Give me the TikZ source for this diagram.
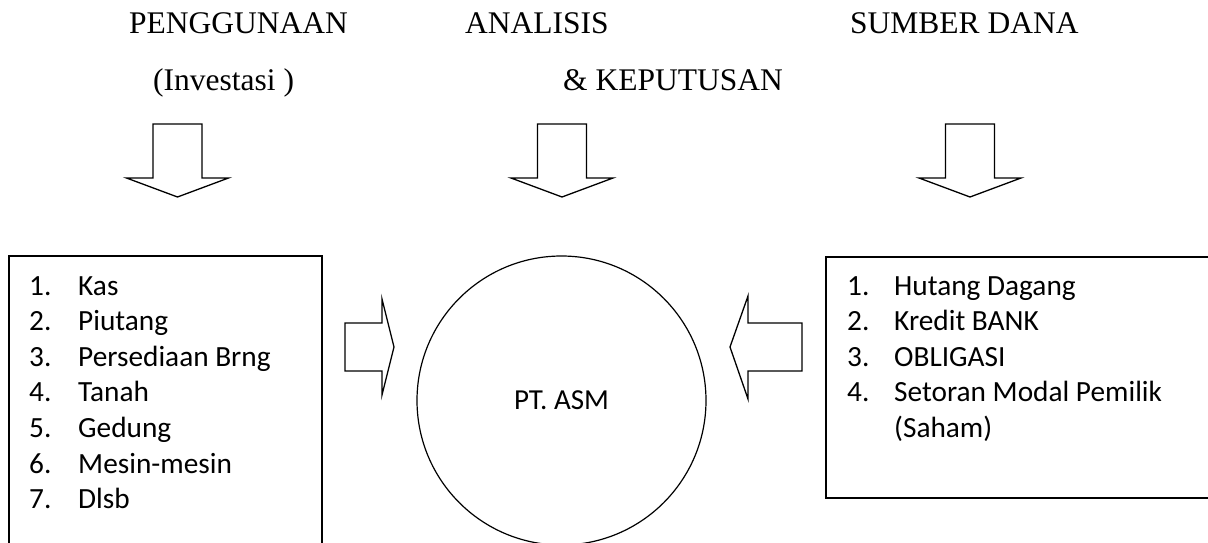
\documentclass[tikz,border=0pt]{standalone}
\usepackage{fontspec}
\setmainfont{Liberation Serif}
\newfontfamily\calibri{Carlito}
\usetikzlibrary{positioning}
\tikzset{
  title/.style={anchor=base west, inner sep=0pt, font=\fontsize{31.5}{37}\selectfont},
  listtext/.style={anchor=base west, inner sep=0pt, font=\calibri\fontsize{29.3}{35.6}\selectfont},
  blockarrow/.style={draw, line width=1.3pt, line join=miter, fill=white},
  listbox/.style={draw, line width=1.2pt}
}
\begin{document}
\begin{tikzpicture}[x=1pt,y=-1pt]
    \useasboundingbox (0,0) rectangle (1208,543);
    \clip (0,0) rectangle (1208,543);
    % headings
    \node[title] (use) at (129,34) {PENGGUNAAN};
    \node[title] (inv) at (153,90) {(Investasi )};
    \node[title] (ana) at (465,34) {ANALISIS};
    \node[title] (kep) at (563,90) {\& KEPUTUSAN};
    \node[title] (src) at (850,34) {SUMBER DANA};
    %
    % down arrows
    \foreach \cx in {177.5,562,970} {
      \draw[blockarrow] (\cx-24.5,124) -- (\cx+24.5,124) -- (\cx+24.5,178) -- (\cx+51,178)
        -- (\cx,197) -- (\cx-51,178) -- (\cx-24.5,178) -- cycle;
    }
    %
    % company
    \node[draw, circle, line width=1.2pt, minimum size=289pt, inner sep=0pt,
          font=\calibri\fontsize{29}{35}\selectfont] (asm) at (561.5,400.5) {PT. ASM};
    %
    % side arrows
    \draw[blockarrow] (345,323) -- (382,323) -- (382,299) -- (394,347) -- (382,395)
      -- (382,371) -- (345,371) -- cycle;
    \draw[blockarrow] (802,323) -- (748,323) -- (748,296) -- (730,347) -- (748,399)
      -- (748,371) -- (802,371) -- cycle;
    %
    % left box
    \draw[listbox] (9,560) -- (9,256) -- (322,256) -- (322,560);
    \foreach \i/\item in {1/Kas,2/Piutang,3/Persediaan Brng,4/Tanah,5/Gedung,6/Mesin-mesin,7/Dlsb} {
      \node[listtext] (un\i) at (29,{295+(\i-1)*35.6}) {\i.};
      \node[listtext] (ui\i) at (78,{295+(\i-1)*35.6}) {\item};
    }
    %
    % right box
    \draw[listbox] (1215,257) -- (826,257) -- (826,498) -- (1215,498);
    \foreach \i/\item in {1/Hutang Dagang,2/Kredit BANK,3/OBLIGASI,4/Setoran Modal Pemilik} {
      \node[listtext] (sn\i) at (847,{295+(\i-1)*35.6}) {\i.};
      \node[listtext] (si\i) at (894,{295+(\i-1)*35.6}) {\item};
    }
    \node[listtext] (si4b) at (894,437.4) {(Saham)};
\end{tikzpicture}
\end{document}
